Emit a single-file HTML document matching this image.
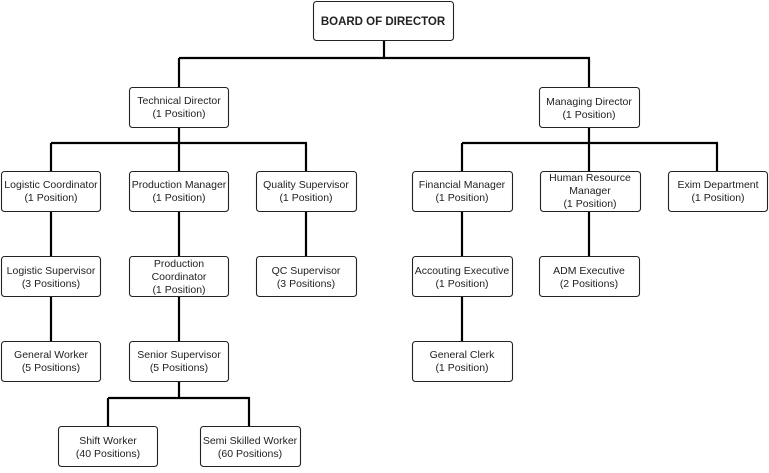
<!DOCTYPE html>
<html><head><meta charset="utf-8"><style>
html,body{margin:0;padding:0;background:#fff;}
svg text{font-family:"Liberation Sans",sans-serif;font-size:10.5px;fill:#222;text-anchor:middle;}
</style></head><body>
<svg width="769" height="468" viewBox="0 0 769 468" xmlns="http://www.w3.org/2000/svg">
<g stroke="#000" stroke-width="2.2" fill="none">
<path d="M384 41V58M179 58H590M179 58V87M589 58V87"/>
<path d="M179 127V143M51 143H307M51 143V171M179 143V171M306 143V171"/>
<path d="M589 127V143M462 143H718M462 143V171M589 143V171M717 143V171"/>
<path d="M51 211V256M179 211V256M306 211V256M462 211V256M589 211V256"/>
<path d="M51 297V341M179 297V341M462 297V341"/>
<path d="M179 382V398M108 398H250M108 398V426M249 398V426"/>
</g>
<g stroke="#222" stroke-width="1.1" fill="#fff">
<rect x="313.5" y="1.5" width="140" height="39" rx="3"/>
<rect x="129.5" y="87.5" width="99" height="40" rx="3"/>
<rect x="539.5" y="87.5" width="100" height="40" rx="3"/>
<rect x="1.5" y="171.5" width="99" height="40" rx="3"/>
<rect x="129.5" y="171.5" width="99" height="40" rx="3"/>
<rect x="256.5" y="171.5" width="100" height="40" rx="3"/>
<rect x="412.5" y="171.5" width="100" height="40" rx="3"/>
<rect x="540.5" y="171.5" width="100" height="40" rx="3"/>
<rect x="668.5" y="171.5" width="99" height="40" rx="3"/>
<rect x="1.5" y="256.5" width="99" height="40" rx="3"/>
<rect x="129.5" y="256.5" width="99" height="40" rx="3"/>
<rect x="256.5" y="256.5" width="100" height="40" rx="3"/>
<rect x="412.5" y="256.5" width="100" height="40" rx="3"/>
<rect x="539.5" y="256.5" width="100" height="40" rx="3"/>
<rect x="1.5" y="341.5" width="99" height="40" rx="3"/>
<rect x="129.5" y="341.5" width="99" height="40" rx="3"/>
<rect x="412.5" y="341.5" width="100" height="40" rx="3"/>
<rect x="58.5" y="426.5" width="99" height="40" rx="3"/>
<rect x="200.5" y="426.5" width="100" height="40" rx="3"/>
</g>
<text x="383" y="25" style="font-weight:bold;font-size:11.5px">BOARD OF DIRECTOR</text>
<text x="179" y="104">Technical Director</text><text x="179" y="117">(1 Position)</text>
<text x="589" y="105">Managing Director</text><text x="589" y="118">(1 Position)</text>
<text x="51" y="188">Logistic Coordinator</text><text x="51" y="201">(1 Position)</text>
<text x="179" y="188">Production Manager</text><text x="179" y="201">(1 Position)</text>
<text x="306" y="188">Quality Supervisor</text><text x="306" y="201">(1 Position)</text>
<text x="462" y="188">Financial Manager</text><text x="462" y="201">(1 Position)</text>
<text x="590" y="181">Human Resource</text><text x="590" y="194">Manager</text><text x="590" y="207">(1 Position)</text>
<text x="718" y="188">Exim Department</text><text x="718" y="201">(1 Position)</text>
<text x="51" y="274">Logistic Supervisor</text><text x="51" y="287">(3 Positions)</text>
<text x="179" y="267">Production</text><text x="179" y="280">Coordinator</text><text x="179" y="293">(1 Position)</text>
<text x="306" y="274">QC Supervisor</text><text x="306" y="287">(3 Positions)</text>
<text x="462" y="274">Accouting Executive</text><text x="462" y="287">(1 Position)</text>
<text x="589" y="274">ADM Executive</text><text x="589" y="287">(2 Positions)</text>
<text x="51" y="358">General Worker</text><text x="51" y="371">(5 Positions)</text>
<text x="179" y="358">Senior Supervisor</text><text x="179" y="371">(5 Positions)</text>
<text x="462" y="358">General Clerk</text><text x="462" y="371">(1 Position)</text>
<text x="108" y="444">Shift Worker</text><text x="108" y="457">(40 Positions)</text>
<text x="250" y="444">Semi Skilled Worker</text><text x="250" y="457">(60 Positions)</text>
</svg>
</body></html>
